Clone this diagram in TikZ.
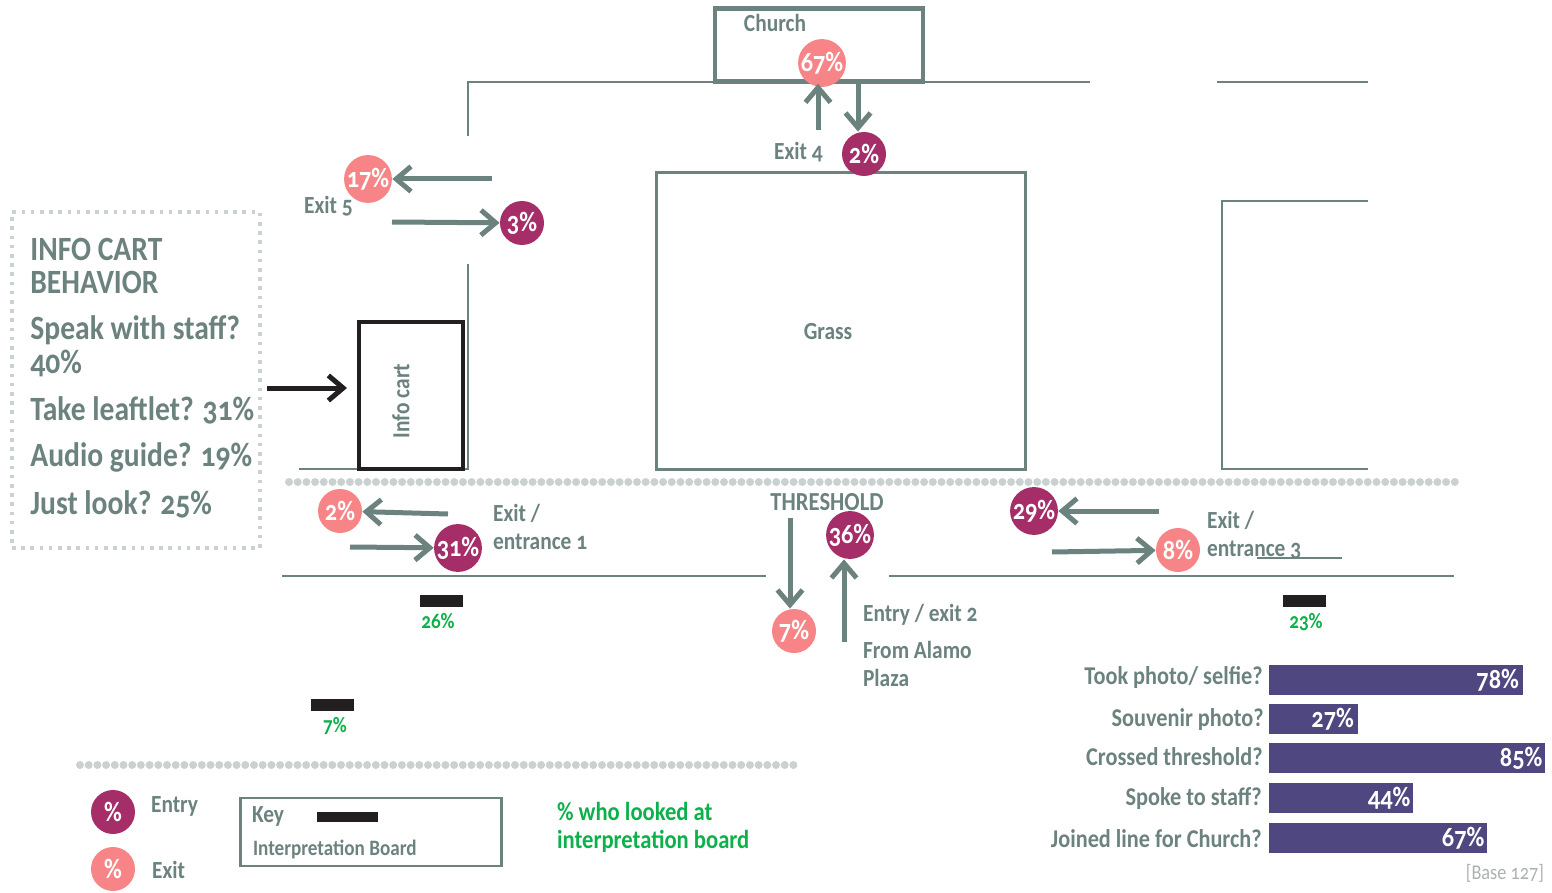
\documentclass[tikz,border=0pt]{standalone}
\usepackage{fontspec}
\setmainfont[Numbers=OldStyle,FakeStretch=0.87]{Carlito}
\usepackage{tikz}
\usetikzlibrary{arrows.meta,positioning}
\definecolor{wallgray}{HTML}{6B827F}
\definecolor{entrycol}{HTML}{A52D68}
\definecolor{exitcol}{HTML}{F78587}
\definecolor{barcol}{HTML}{4E4780}
\definecolor{greencol}{HTML}{0DB14B}
\definecolor{dotcol}{HTML}{C9D2D0}
\definecolor{boardcol}{HTML}{231F20}
\begin{document}
\begin{tikzpicture}[x=1pt,y=-1pt,
			wall/.style={draw=wallgray,line width=1.1pt},
			arrow/.style={-{Straight Barb[length=2.6mm,width=4.4mm]},draw=wallgray,line width=2.5pt},
			entry/.style={circle,fill=entrycol,text=white,minimum size=22pt,inner sep=0pt,font=\fontsize{14}{14}\selectfont\bfseries},
			exit/.style={circle,fill=exitcol,text=white,minimum size=22pt,inner sep=0pt,font=\fontsize{14}{14}\selectfont\bfseries},
			lbl/.style={text=wallgray,font=\fontsize{12.3}{14}\selectfont\bfseries,align=left},
			board/.style={fill=boardcol,minimum width=21.5pt,minimum height=6pt,inner sep=0pt},
			pct/.style={text=greencol,font=\fontsize{11}{11}\selectfont\bfseries},
			bar/.style={fill=barcol,text=white,anchor=west,minimum height=15pt,inner sep=1.5pt,align=right,font=\fontsize{14}{14}\selectfont\bfseries},
			question/.style={text=wallgray,anchor=east,inner sep=0pt,font=\fontsize{12.8}{12.8}\selectfont\bfseries},
			threshold/.style={dotcol,line width=4pt,line cap=round,dash pattern=on 0pt off 4.35pt},
			head/.style={text=wallgray,anchor=west,inner sep=0pt,font=\fontsize{17}{17}\selectfont\bfseries,align=left}
			]
			\useasboundingbox (0,0) rectangle (776,446.5);
			% walls
			\coordinate (wallA) at (234,68);
			\coordinate (wallB) at (234,41);
			\coordinate (wallC) at (545,41);
			\coordinate (wallD) at (608.5,41);
			\coordinate (wallE) at (684,41);
			\coordinate (wallF) at (234,132);
			\coordinate (wallG) at (234,234.5);
			\coordinate (wallH) at (149.5,234.5);
			\draw[wall] (wallA)--(wallB)--(wallC);
			\draw[wall] (wallD)--(wallE);
			\draw[wall] (wallF)--(wallG)--(wallH);
			\node[draw=wallgray,line width=1.1pt,minimum width=184.5pt,minimum height=148.5pt,inner sep=0pt] (grass) at (420.5,160.5) {};
			\node[lbl] at (414,166) {Grass};
			\draw[wall] (684,100.5)--(611,100.5)--(611,234.5)--(684,234.5);
			\draw[wall] (141,288)--(383,288);
			\draw[wall] (444.5,288)--(727,288);
			\draw[wall] (628.5,279)--(671,279);
			\draw[threshold] (144.5,241)--(730.5,241);
			\draw[threshold] (40,382.5)--(400.5,382.5);
			% church and info cart
			\node[draw=wallgray,line width=2.2pt,minimum width=104pt,minimum height=36.5pt,inner sep=0pt] (church) at (409.5,22.5) {};
			\node[lbl,anchor=base] at (387.5,16) {Church};
			\node[draw=boardcol,line width=2pt,minimum width=52pt,minimum height=73.5pt,inner sep=0pt] (cart) at (205.5,197.5) {};
			\node[lbl,rotate=90] at (200.5,200.5) {Info cart};
			% entries and exits
			\node[exit] (church67) at (411,31.5) {67\%};
			\node[entry] (entry4) at (432,77) {2\%};
			\node[exit] (exit5) at (184,89.5) {17\%};
			\node[entry] (entry5) at (261,111.5) {3\%};
			\node[exit] (exit1) at (170,255.5) {2\%};
			\node[entry] (entry1) at (229,274) {31\%};
			\node[entry] (entry2) at (425,267.5) {36\%};
			\node[exit] (exit2) at (397,315.5) {7\%};
			\node[entry] (entry3) at (517,255.5) {29\%};
			\node[exit] (exit3) at (589,275) {8\%};
			% arrows
			\coordinate (from4a) at (409,65);
			\coordinate (from4b) at (429,42);
			\coordinate (from5a) at (246,89.5);
			\coordinate (from5b) at (196,111);
			\coordinate (from1a) at (224,257);
			\coordinate (from1b) at (175,273.5);
			\coordinate (from2a) at (395,259);
			\coordinate (from2b) at (422,321);
			\coordinate (from3a) at (579.5,255.5);
			\coordinate (from3b) at (526,276);
			\coordinate (fromkey) at (133.5,194);
			\draw[arrow] (from4a)--(church.south -| from4a);
			\draw[arrow] (from4b)--(entry4.north -| from4b);
			\draw[arrow] (from5a)--(exit5);
			\draw[arrow] (from5b)--(entry5);
			\draw[arrow] (from1a)--(exit1);
			\draw[arrow] (from1b)--(entry1);
			\draw[arrow] (from2a)--(exit2.north -| from2a);
			\draw[arrow] (from2b)--(entry2.south -| from2b);
			\draw[arrow] (from3a)--(entry3);
			\draw[arrow] (from3b)--(exit3);
			\draw[arrow,draw=boardcol,shorten >=5pt] (fromkey)--(cart.west |- fromkey);
			% labels
			\node[lbl,anchor=west] at (148.5,103) {Exit 5};
			\node[lbl,anchor=west] at (383.5,76) {Exit 4};
			\node[lbl,anchor=west] at (243,263.5) {Exit /\\entrance 1};
			\node[lbl,anchor=west] at (600,267.5) {Exit /\\entrance 3};
			\node[lbl,anchor=base,font=\fontsize{13}{13}\selectfont\bfseries] at (413.5,255) {THRESHOLD};
			\node[lbl,anchor=west] at (428,307.5) {Entry / exit 2};
			\node[lbl,anchor=west] at (428,332) {From Alamo\\Plaza};
			% boards
			\node[board] (board1) at (220.5,300.5) {};
			\node[pct,below=-0.5pt of board1,xshift=-1.5pt] {26\%};
			\node[board] (board3) at (652,300.5) {};
			\node[pct,below=-0.5pt of board3,xshift=1pt] {23\%};
			\node[board] (board4) at (166,352.5) {};
			\node[pct,below=-0.5pt of board4,xshift=1.5pt] {7\%};
			% info cart behaviour
			\node[draw=dotcol,line width=1.8pt,dash pattern=on 1.8pt off 2.8pt,minimum width=124pt,minimum height=168pt,inner sep=0pt] (infobox) at (68,190) {};
			\node[head] at (15,124.5) {INFO CART};
			\node[head] at (15,141) {BEHAVIOR};
			\node[head] at (15,165) {Speak with staff?};
			\node[head] at (15,181.5) {40\%};
			\node[head] at (15,205) {Take leaftlet? 31\%};
			\node[head] at (15,228.5) {Audio guide? 19\%};
			\node[head] at (15,252) {Just look? 25\%};
			% bars
			\node[question] at (631.5,339) {Took photo/ selfie?};
			\node[bar,minimum width=127pt,text width=122.5pt] (bar1) at (634.5,340) {78\%};
			\node[question] at (632,360) {Souvenir photo?};
			\node[bar,minimum width=44.5pt,text width=40pt] (bar2) at (634.5,359.5) {27\%};
			\node[question] at (631.5,378.5) {Crossed threshold?};
			\node[bar,minimum width=138pt,text width=135pt] (bar3) at (634.5,379) {85\%};
			\node[question] at (631,399.5) {Spoke to staff?};
			\node[bar,minimum width=72pt,text width=69pt] (bar4) at (634.5,399) {44\%};
			\node[question] at (631,419.5) {Joined line for Church?};
			\node[bar,minimum width=109pt,text width=106pt] (bar5) at (634.5,419) {67\%};
			\node[text=dotcol!60!gray,anchor=east,font=\fontsize{10.5}{10.5}\selectfont] at (775.5,436.5) {[Base 127]};
			% key
			\node[entry] (keyentry) at (56.5,406) {\%};
			\node[lbl,anchor=west] at (72,403) {Entry};
			\node[exit] (keyexit) at (56.5,434.5) {\%};
			\node[lbl,anchor=west] at (72.5,435) {Exit};
			\node[draw=wallgray,line width=1.1pt,minimum width=130.5pt,minimum height=34pt,inner sep=0pt] (keybox) at (185.5,416) {};
			\node[lbl,anchor=west] at (122.5,408) {Key};
			\node[board,minimum width=30.5pt,minimum height=5pt] (keyboard) at (173.5,408.5) {};
			\node[lbl,anchor=west,font=\fontsize{11}{11}\selectfont\bfseries] at (123,424.5) {Interpretation Board};
			\node[text=greencol,anchor=west,align=left,font=\fontsize{13}{14}\selectfont\bfseries] at (275,413.5) {\% who looked at\\interpretation board};
		\end{tikzpicture}
\end{document}
